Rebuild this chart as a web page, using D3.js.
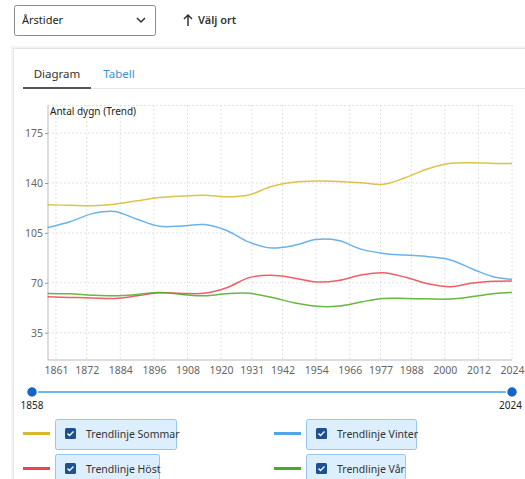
<!DOCTYPE html>
<html><head><meta charset="utf-8">
<script src="https://cdn.jsdelivr.net/npm/d3@7"></script>
<style>
html,body{margin:0;padding:0;background:#fff;overflow:hidden;}
svg{display:block;font-family:"Noto Sans","Open Sans",sans-serif;}
</style></head>
<body>
<svg id="c" width="525" height="479"></svg>
<script>
const years = [1858,1866,1874,1882,1890,1898,1906,1914,1922,1930,1938,1946,1954,1962,1970,1978,1986,1994,2002,2010,2018,2024];
const sommar = [124.7,124.3,124.0,125.1,127.5,129.8,130.8,131.3,130.3,131.6,137.5,140.5,141.4,141.1,140.2,139.1,143.8,150.0,153.8,154.2,153.7,153.6];
const vinter = [108.7,112.8,118.5,120.0,114.5,109.6,109.8,110.8,106.7,98.5,94.4,96.2,100.3,99.6,93.6,90.6,89.4,88.3,86.0,79.5,73.8,72.4];
const host   = [60.1,59.7,59.3,59.0,60.8,62.9,62.5,62.6,66.5,73.6,75.2,73.4,70.6,71.6,75.4,77.0,73.8,69.3,67.2,69.8,71.0,71.2];
const var_   = [62.5,62.2,61.3,60.9,61.8,63.2,61.8,60.8,62.3,62.6,59.8,56.0,53.5,53.6,56.5,59.0,59.0,58.7,58.6,60.3,62.5,63.2];
const seriesNames = ["Trendlinje Sommar","Trendlinje Vinter","Trendlinje Höst","Trendlinje Vår"];
const seriesColors = ["#d6b92a","#4fa6e8","#f2414d","#4caa1e"];
const xTickYears = [1861,1872,1884,1896,1908,1920,1931,1942,1954,1966,1977,1988,2000,2012,2024];
const yTickValues = [35,70,105,140,175];
const yearRange = [1858,2024];
const yTitle = "Antal dygn (Trend)";

const svg = d3.select("#c");

// top controls
svg.append("rect").attr("x",14.5).attr("y",5.5).attr("width",141).attr("height",30).attr("rx",2)
  .attr("fill","#fff").attr("stroke","#8a8a8a");
svg.append("text").attr("x",22).attr("y",24).attr("font-size",11).attr("fill","#222").text("Årstider");
svg.append("path").attr("d","M137,18 l4,4 l4,-4").attr("fill","none").attr("stroke","#333").attr("stroke-width",1.5);
svg.append("path").attr("d","M188,26 V15 M184,19 l4,-4 l4,4").attr("fill","none").attr("stroke","#333").attr("stroke-width",1.5);
svg.append("text").attr("x",198).attr("y",24).attr("font-size",11).attr("font-weight",600).attr("fill","#333").text("Välj ort");

// card
svg.append("rect").attr("x",11).attr("y",46).attr("width",530).attr("height",460).attr("fill","#f4f4f4");
svg.append("rect").attr("x",13.5).attr("y",48.5).attr("width",530).attr("height",460).attr("fill","#fff").attr("stroke","#e4e4e4");
svg.append("line").attr("x1",23).attr("x2",525).attr("y1",88.5).attr("y2",88.5).attr("stroke","#e8e8e8");
svg.append("line").attr("x1",23).attr("x2",91).attr("y1",88).attr("y2",88).attr("stroke","#555").attr("stroke-width",2);
svg.append("text").attr("x",57).attr("y",78).attr("text-anchor","middle").attr("font-size",11.5).attr("fill","#333").text("Diagram");
svg.append("text").attr("x",119).attr("y",78).attr("text-anchor","middle").attr("font-size",11.5).attr("fill","#3d8fd8").text("Tabell");

// chart
const x = d3.scaleLinear().domain(yearRange).range([47.6,512]);
const y = d3.scaleLinear().domain([15.8,194.7]).range([360,105]);

const grid = svg.append("g");
grid.selectAll(".vg").data(xTickYears).join("line")
  .attr("x1",d=>x(d)).attr("x2",d=>x(d)).attr("y1",105).attr("y2",360)
  .attr("stroke","#e2e2e2").attr("stroke-dasharray","2,2");
grid.selectAll(".hg").data(yTickValues).join("line")
  .attr("x1",48).attr("x2",512).attr("y1",d=>y(d)).attr("y2",d=>y(d))
  .attr("stroke","#e2e2e2").attr("stroke-dasharray","2,2");
grid.append("line").attr("x1",48).attr("x2",512).attr("y1",105.5).attr("y2",105.5)
  .attr("stroke","#e2e2e2").attr("stroke-dasharray","2,2");

const yAxis = svg.append("g").attr("transform","translate(48,0)")
  .call(d3.axisLeft(y).tickValues(yTickValues).tickSize(3).tickPadding(2));
yAxis.select(".domain").attr("stroke","#bbb").attr("d","M0,105V360");
yAxis.selectAll(".tick line").attr("stroke","#999");
yAxis.selectAll("text").attr("fill","#666").attr("font-size",10.5).attr("font-family","Noto Sans, sans-serif");

const xAxis = svg.append("g").attr("transform","translate(0,360)")
  .call(d3.axisBottom(x).tickValues(xTickYears).tickFormat(d3.format("d")).tickSize(0).tickPadding(7));
xAxis.select(".domain").attr("stroke","#bbb").attr("d","M48,0H512");
xAxis.selectAll("text").attr("fill","#666").attr("font-size",10.5).attr("font-family","Noto Sans, sans-serif");

svg.append("text").attr("x",50).attr("y",115).attr("font-size",10).attr("fill","#222").text(yTitle);

const allSeries = [sommar,vinter,host,var_];
const line = d3.line().x((d,i)=>x(years[i])).y(d=>y(d)).curve(d3.curveCatmullRom.alpha(0.5));
svg.append("g").selectAll("path").data(allSeries).join("path")
  .attr("d",d=>line(d)).attr("fill","none")
  .attr("stroke",(d,i)=>seriesColors[i]).attr("stroke-width",1.5).attr("opacity",0.85);

// slider
const sx = d3.scaleLinear().domain(yearRange).range([32,512]);
svg.append("line").attr("x1",sx(yearRange[0])).attr("x2",sx(yearRange[1])).attr("y1",392).attr("y2",392)
  .attr("stroke","#6cb6f2").attr("stroke-width",2);
svg.selectAll(".knob").data(yearRange).join("circle")
  .attr("cx",d=>sx(d)).attr("cy",392).attr("r",5.5).attr("fill","#1565c8").attr("stroke","#fff").attr("stroke-width",1.5);
svg.append("text").attr("x",sx(yearRange[0])).attr("y",409).attr("text-anchor","middle").attr("font-size",10).attr("fill","#222").text(yearRange[0]);
svg.append("text").attr("x",522).attr("y",409).attr("text-anchor","end").attr("font-size",10).attr("fill","#222").text(yearRange[1]);

// legend
const legPos = [[23,419,121],[274,419,110],[23,454,104],[274,454,99]];
seriesNames.forEach((name,i)=>{
  const [lx,ly,bw] = legPos[i];
  const g = svg.append("g");
  g.append("line").attr("x1",lx).attr("x2",lx+27).attr("y1",ly+14.5).attr("y2",ly+14.5)
    .attr("stroke",seriesColors[i]).attr("stroke-width",3);
  g.append("rect").attr("x",lx+32.5).attr("y",ly+0.5).attr("width",bw).attr("height",30).attr("rx",2)
    .attr("fill","#ddeefc").attr("stroke","#95c6f0");
  g.append("rect").attr("x",lx+42).attr("y",ly+9).attr("width",11).attr("height",11).attr("rx",1.5).attr("fill","#1d4f93");
  g.append("path").attr("d",`M${lx+44.5},${ly+14.5} l2,2 l4,-4`).attr("fill","none").attr("stroke","#fff").attr("stroke-width",1.4);
  g.append("text").attr("x",lx+63).attr("y",ly+19).attr("font-size",10.5).attr("fill","#333").text(name);
});
</script>
</body></html>
